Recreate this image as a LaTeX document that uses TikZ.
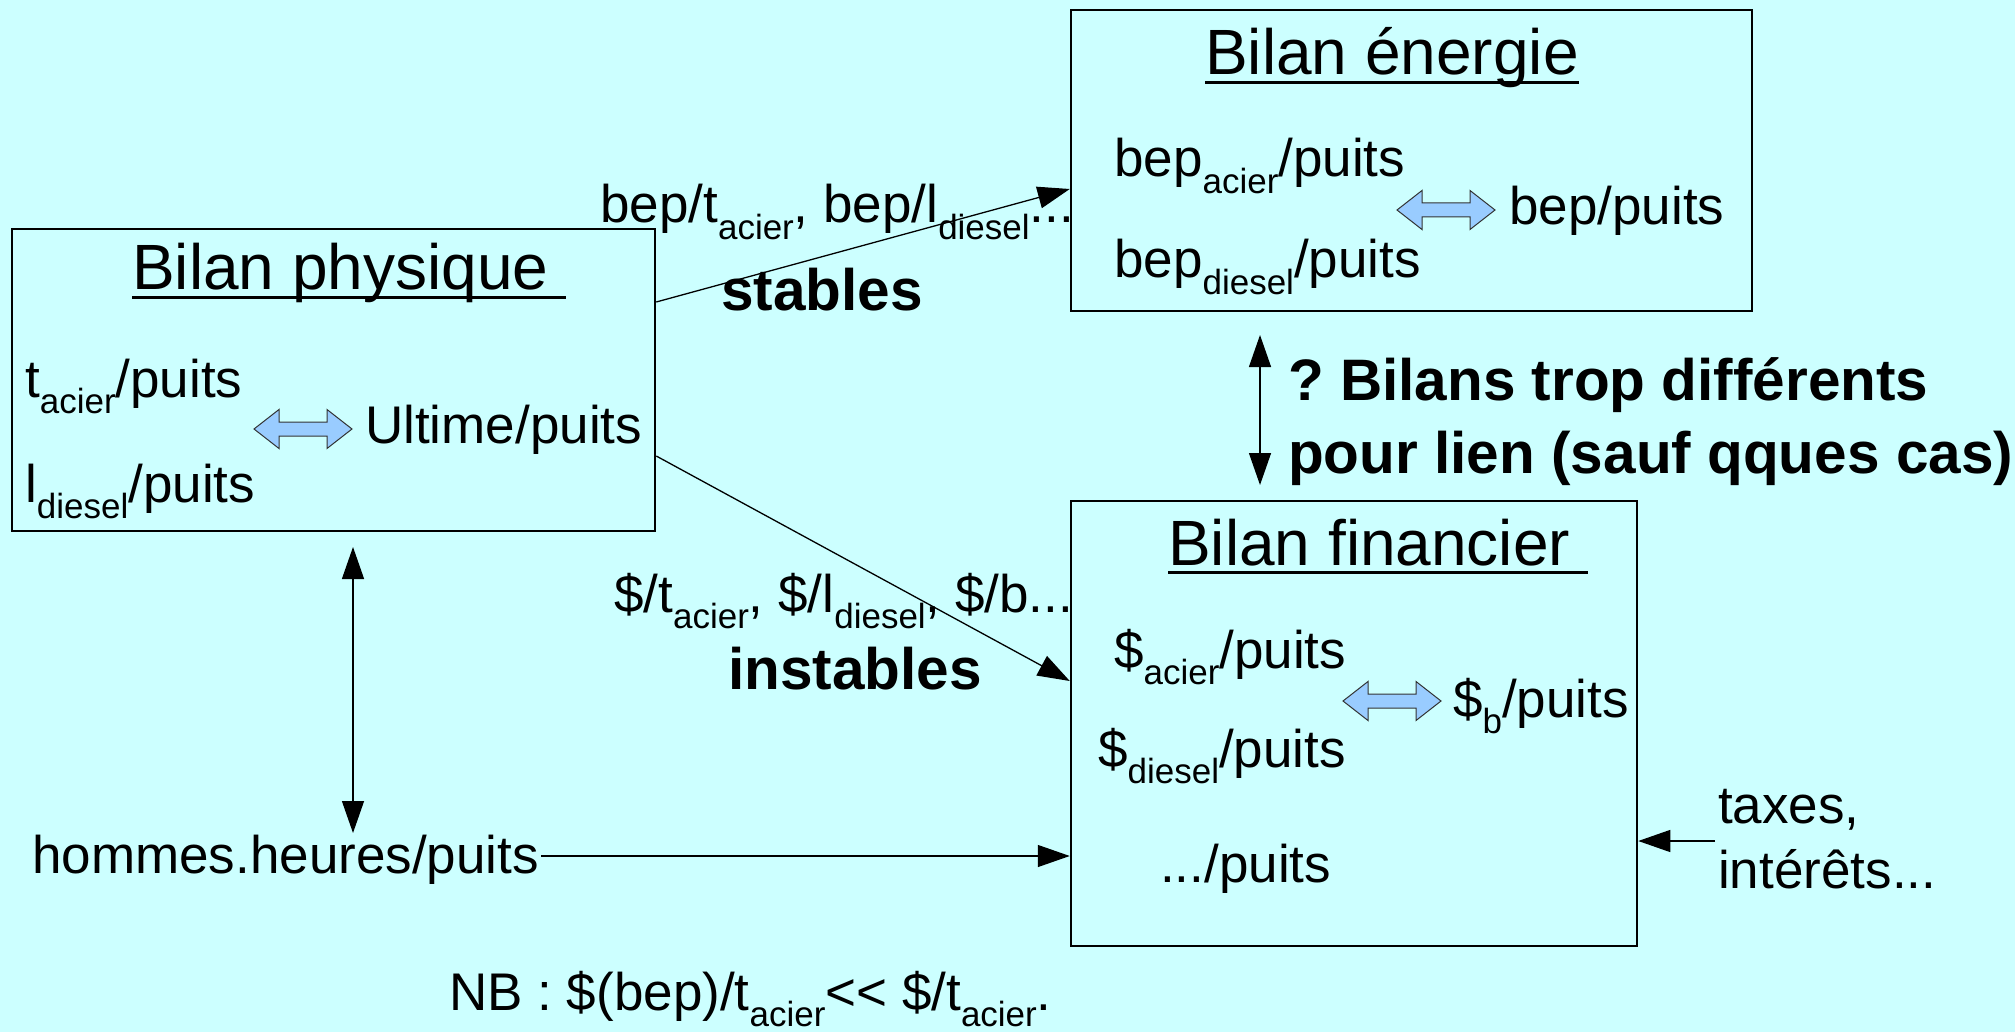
\documentclass[tikz,border=0pt]{standalone}
\usepackage{fontspec}
\usepackage{graphicx}
\setmainfont{Liberation Sans}
\usetikzlibrary{arrows.meta}
\definecolor{bg}{HTML}{CCFFFF}
\definecolor{arrblue}{HTML}{99CCFF}
\definecolor{arrline}{HTML}{333333}
\newcommand\sbs[1]{\raisebox{-0.32em}{\scalebox{0.66}{#1}}}
\newcommand\ulx[1]{\setbox0\hbox{#1}\rlap{\rule[-0.14em]{\wd0}{0.045em}}\box0}
\frenchspacing
\tikzset{
  box/.style={draw, line width=2.5pt, inner sep=0pt},
  txt/.style={anchor=base west, inner sep=0pt, font=\fontsize{53}{60}\selectfont\frenchspacing},
  ttl/.style={anchor=base west, inner sep=0pt, font=\fontsize{64}{72}\selectfont},
  bld/.style={anchor=base west, inner sep=0pt, font=\fontsize{58.5}{66}\selectfont\bfseries\frenchspacing},
  conn/.style={line width=1.3pt, -{Triangle[length=32pt,width=22pt]}},
  conntwo/.style={line width=1.3pt, {Triangle[length=32pt,width=22pt]}-{Triangle[length=32pt,width=22pt]}},
  dblarr/.pic={\filldraw[fill=arrblue, draw=arrline, line width=1pt]
    (-49,0) -- (-24,-19.5) -- (-24,-7) -- (24,-7) -- (24,-19.5) -- (49,0)
    -- (24,19.5) -- (24,7) -- (-24,7) -- (-24,19.5) -- cycle;}
}
\begin{document}
\begin{tikzpicture}[x=1pt,y=-1pt]
\fill[bg] (0,0) rectangle (2015,1032);
\useasboundingbox (0,0) rectangle (2015,1032);

% boxes
\node[box, minimum width=643pt, minimum height=302pt] (phys) at (333.5,380) {};
\node[box, minimum width=681pt, minimum height=301pt] (ener) at (1411.5,160.5) {};
\node[box, minimum width=566pt, minimum height=445pt] (fin) at (1354,723.5) {};

% Bilan physique
\node[ttl] (tphys) at (132,290) {\ulx{Bilan physique~}};
\node[txt] (tac) at (25,397) {t\sbs{acier}/puits};
\node[txt] (ldi) at (25,502) {l\sbs{diesel}/puits};
\node[txt] (ult) at (365,443) {Ultime/puits};
\pic at (303,429) {dblarr};

% Bilan energie
\node[ttl] (tener) at (1205,75) {\ulx{Bilan énergie}};
\node[txt] (bac) at (1114,177) {bep\sbs{acier}/puits};
\node[txt] (bdi) at (1114,278) {bep\sbs{diesel}/puits};
\node[txt] (bpu) at (1509,225) {bep/puits};
\pic at (1446,210) {dblarr};

% Bilan financier
\node[ttl] (tfin) at (1168,565) {\ulx{Bilan financier~}};
\node[txt] (dac) at (1114,668) {\$\sbs{acier}/puits};
\node[txt] (ddi) at (1098,767) {\$\sbs{diesel}/puits};
\node[txt] (dpp) at (1160,882) {.../puits};
\node[txt] (dbp) at (1453,717) {\$\sbs{b}/puits};
\pic at (1392,701) {dblarr};

% labels
\node[txt] (lst) at (600,223) {bep/t\sbs{acier}, bep/l\sbs{diesel}...};
\node[bld] (stab) at (721,310) {stables};
\node[txt] (lin) at (614,612) {\$/t\sbs{acier}, \$/l\sbs{diesel}, \$/b...};
\node[bld] (instab) at (728,689) {instables};
\node[bld] (bil1) at (1288,400) {? Bilans trop différents};
\node[bld] (bil2) at (1288,473) {pour lien (sauf qques cas)};
\node[txt] (hom) at (32,873) {hommes.heures/puits};
\node[txt] (tax1) at (1718,823) {taxes,};
\node[txt] (tax2) at (1718,888) {intérêts...};
\node[txt] (nb) at (449,1010) {NB : \$(bep)/t\sbs{acier}<{}< \$/t\sbs{acier}.};

% connectors
\draw[conn] ([yshift=78pt]phys.east) -- ([yshift=-28.5pt]ener.west);
\draw[conn] ([yshift=-76pt]phys.east) -- ([yshift=42.5pt]fin.west);
\coordinate (va) at (353,547);
\coordinate (vb) at (353,833);
\draw[conntwo] (va) -- (vb);
\coordinate (ha) at (541,856);
\draw[conn] (ha) -- (ha -| fin.west);
\coordinate (ma) at (1260,335);
\coordinate (mb) at (1260,485);
\draw[conntwo] (ma) -- (mb);
\coordinate (ta) at (1715,841);
\draw[conn] (ta) -- (ta -| fin.east);
\end{tikzpicture}
\end{document}
